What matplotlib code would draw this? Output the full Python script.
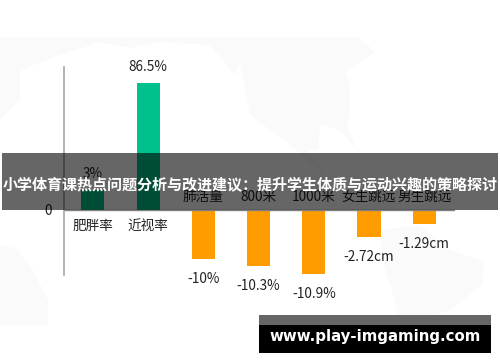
import matplotlib
matplotlib.use("Agg")
import matplotlib.pyplot as plt

plt.rcParams['font.family'] = ['Noto Sans CJK SC', 'DejaVu Sans']

categories = ["肥胖率", "近视率", "肺活量", "800米", "1000米", "女生跳远", "男生跳远"]
# bars in the picture are not to scale with their labels, so heights are read separately
heights = [13.3, 86.5, -33.6, -38.4, -43.9, -19, -9.9]
value_labels = ["3%", "86.5%", "-10%", "-10.3%", "-10.9%", "-2.72cm", "-1.29cm"]
title = "小学体育课热点问题分析与改进建议：提升学生体质与运动兴趣的策略探讨"
site = "www.play-imgaming.com"

W = 500
H = 362
fig = plt.figure(figsize=(W / 100, H / 100), dpi=100, facecolor="white")

def px_axes(x0, y0, x1, y1):
    return fig.add_axes([x0 / W, 1 - y1 / H, (x1 - x0) / W, (y1 - y0) / H])

# faint world map behind the chart, only rough outlines
bg = fig.add_axes([0, 0, 1, 1])
bg.set_xlim(0, W)
bg.set_ylim(H, 0)
bg.axis("off")
land = "#fafafa"
bg.fill([0, 250, 235, 210, 160, 130, 100, 60, 20, 20, 0], [37, 37, 75, 45, 42, 48, 42, 55, 70, 100, 120], color=land, lw=0)
bg.fill([235, 358, 375, 345, 350, 350, 347, 355, 340, 320, 318, 300, 270, 250], [37, 37, 52, 72, 85, 110, 125, 148, 130, 125, 150, 150, 130, 115], color=land, lw=0)
bg.fill([285, 300, 325, 375, 380, 355], [140, 140, 175, 225, 235, 205], color=land, lw=0)
bg.fill([380, 420, 450, 485, 482, 450, 400, 392, 382], [230, 225, 250, 262, 285, 310, 325, 290, 260], color=land, lw=0)
bg.fill([0, 15, 30, 48, 48, 0], [245, 248, 265, 300, 325, 325], color=land, lw=0)

ax = px_axes(64, 67, 455, 275)
ax.patch.set_alpha(0)
ax.set_xlim(-0.525, 6.558)
ax.set_ylim(-44.8, 97.5)
colors = ["#00c08b"] * 2 + ["#ff9c00"] * 5
x = list(range(len(categories)))
ax.bar(x, heights, width=0.417, color=colors, lw=0)
for s in ["top", "right", "bottom"]:
    ax.spines[s].set_visible(False)
ax.spines["left"].set_color("#a6a6a6")
ax.spines["left"].set_linewidth(1.2)
ax.axhline(0, color="#808080", lw=1)
ax.set_xticks([])
ax.set_yticks([0])
ax.set_yticklabels(["0"], fontsize=9.8, color="#222222")
ax.tick_params(axis="y", length=0, pad=9)

for i in x:
    if heights[i] > 0:
        ax.text(i, heights[i] + 11, value_labels[i], ha="center", va="center", fontsize=9.8, color="#222222")
        ax.text(i, -11, categories[i], ha="center", va="center", fontsize=9.8, color="#222222")
    else:
        ax.text(i, heights[i] - 13.7, value_labels[i], ha="center", va="center", fontsize=9.8, color="#222222")
        ax.text(i, 8.5, categories[i], ha="center", va="center", fontsize=9.8, color="#222222")

# overlays on top of the chart
top = fig.add_axes([0, 0, 1, 1])
top.set_xlim(0, W)
top.set_ylim(H, 0)
top.axis("off")
top.patch.set_alpha(0)
top.fill_between([2, 498], 153, 210, color="black", alpha=0.6, lw=0)
top.text(250, 184, title, ha="center", va="center", color="white", fontsize=10.85, fontweight="bold")
top.fill_between([259, 491], 315, 325, color="#666666", lw=0)
top.fill_between([259, 491], 325, 353, color="black", lw=0)
top.text(375, 337, site, ha="center", va="center", color="white", fontsize=10.8, fontweight="bold", family="DejaVu Sans")

fig.savefig("out.png", dpi=100)
